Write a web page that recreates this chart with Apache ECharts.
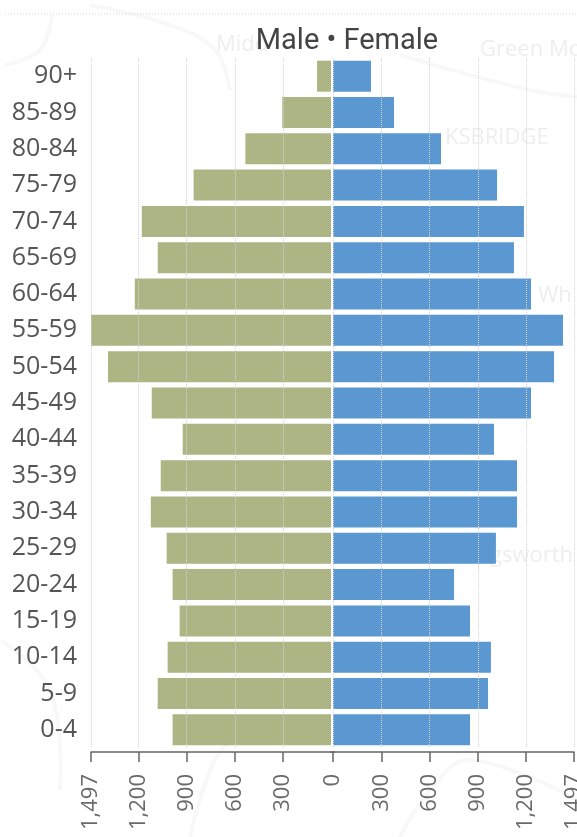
<!DOCTYPE html>
<html><head><meta charset="utf-8">
<style>html,body{margin:0;padding:0;background:#fff}#c{width:577px;height:837px}</style>
<script src="https://cdn.jsdelivr.net/npm/echarts@6/dist/echarts.min.js"></script></head>
<body><div id="c"></div>
<script>
const categories=["90+","85-89","80-84","75-79","70-74","65-69","60-64","55-59","50-54","45-49","40-44","35-39","30-34","25-29","20-24","15-19","10-14","5-9","0-4"];
const male=[87,304,534,857,1180,1081,1224,1497,1391,1118,925,1062,1124,1025,988,944,1019,1081,988];
const female=[236,379,671,1019,1186,1124,1230,1429,1373,1230,1000,1143,1143,1012,752,851,981,963,851];
const ticks=[0,300,600,900,1200,1497];
const maxValue=1497;
const titleText="Male • Female";
const mapLabels=[["Green Mo",480,50],["KSBRIDGE",445,138],["Midd",216,45],["Wh",538,296],["gsworth",490,556]];
const mapLines=[
  [[5,65],[40,50],[52,15]],
  [[90,5],[170,25],[215,50],[230,90]],
  [[400,55],[470,75],[530,90],[577,97]],
  [[0,640],[50,690],[60,790]],
  [[190,837],[215,760],[250,720]],
  [[400,837],[430,790],[470,760],[577,800]]
];
const font='"Open Sans","Noto Sans",sans-serif';
const chart=echarts.init(document.getElementById('c'),null,{renderer:'canvas'});
const valueAxis=(gridIndex,inverse,tickValues,labels)=>({
  type:'value',gridIndex,inverse,min:0,max:maxValue,position:'bottom',offset:4,z:3,
  axisLine:{show:true,lineStyle:{color:'#666',width:1.5}},
  axisTick:{show:true,customValues:tickValues,length:10,lineStyle:{color:'#666',width:1.5}},
  axisLabel:{customValues:labels,rotate:90,fontSize:22,color:'#6a6a6a',fontFamily:font,margin:22,
    showMinLabel:true,showMaxLabel:true,
    formatter:v=>Number(v).toLocaleString('en-US')},
  splitLine:{show:true,lineStyle:{color:'#d4d4d4',type:'dotted',width:1}}
});
const catAxis=(gridIndex,show)=>({
  type:'category',gridIndex,data:categories,inverse:true,
  axisLine:{show:false},axisTick:{show:false},
  axisLabel:{show,fontSize:25,color:'#555',fontFamily:font,margin:14,interval:0}
});
chart.setOption({
  animation:false,backgroundColor:'#fff',
  title:{text:titleText,left:347,top:37,textAlign:'center',textVerticalAlign:'middle',
    textStyle:{fontSize:29,fontWeight:'normal',color:'#444',fontFamily:'Roboto,"Noto Sans",sans-serif'}},
  graphic:[
    {type:'line',shape:{x1:5,y1:14,x2:577,y2:14},style:{stroke:'#d5d5d5',lineDash:[1,2],lineWidth:1},silent:true},
    {type:'line',shape:{x1:330,y1:752,x2:335,y2:752},style:{stroke:'#666',lineWidth:1.5},silent:true},
    ...mapLines.map(points=>({type:'polyline',z:-2,silent:true,shape:{points,smooth:0.4},
      style:{stroke:'#f8f8f8',lineWidth:4,fill:null}})),
    ...mapLabels.map(([text,x,y])=>({type:'text',x,y,z:-1,silent:true,
      style:{text,fontSize:22,fill:'#eeeeee',fontFamily:font,textVerticalAlign:'middle'}}))
  ],
  grid:[
    {left:91,width:240,top:58,height:690,outerBoundsMode:'none'},
    {left:333,width:241,top:58,height:690,outerBoundsMode:'none'}
  ],
  xAxis:[valueAxis(0,true,ticks.slice(1),ticks.slice(1)),valueAxis(1,false,ticks,ticks)],
  yAxis:[catAxis(0,true),catAxis(1,false)],
  series:[
    {type:'bar',name:'Male',xAxisIndex:0,yAxisIndex:0,data:male,barWidth:31,itemStyle:{color:'#adb585'}},
    {type:'bar',name:'Female',xAxisIndex:1,yAxisIndex:1,data:female,barWidth:31,itemStyle:{color:'#5b97d1'}}
  ]
});
chart.setOption({title:{left:342}});
</script></body></html>
